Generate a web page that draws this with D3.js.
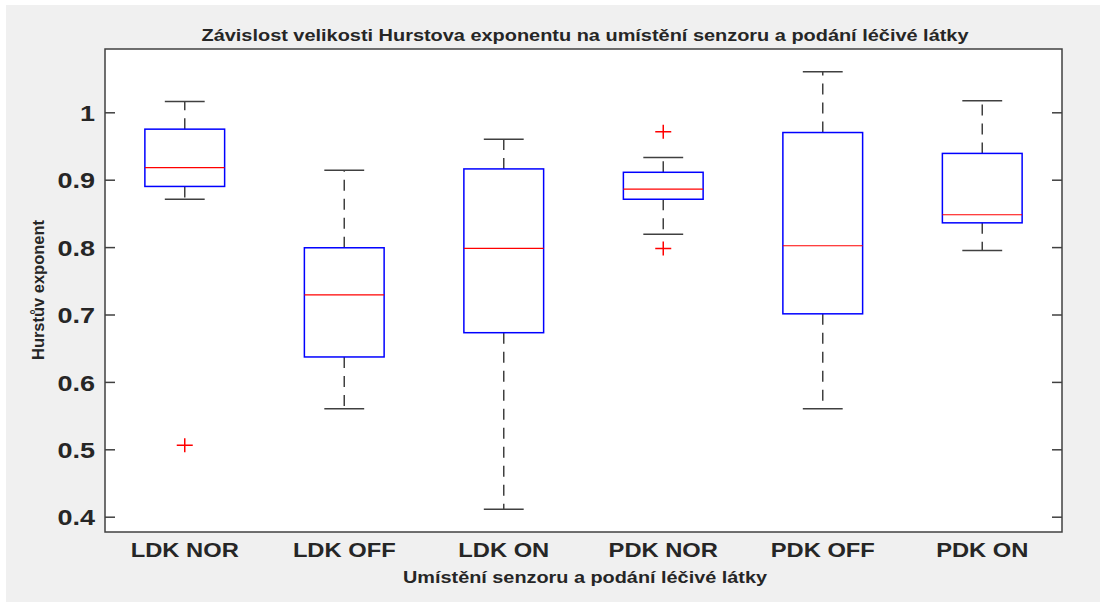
<!DOCTYPE html>
<html>
<head>
<meta charset="utf-8">
<script src="https://cdn.jsdelivr.net/npm/d3@7"></script>
<style>
  body { margin: 0; background: #fff; }
  text { font-family: "Liberation Sans", Arial, sans-serif; font-weight: bold; fill: #262626; }
</style>
</head>
<body>
<script>
// box plot data
const categories = ["LDK NOR", "LDK OFF", "LDK ON", "PDK NOR", "PDK OFF", "PDK ON"];
const whiskerLow = [0.871, 0.560, 0.411, 0.819, 0.560, 0.795];
const q1 = [0.890, 0.637, 0.673, 0.871, 0.701, 0.836];
const medians = [0.918, 0.729, 0.798, 0.886, 0.802, 0.848];
const q3 = [0.975, 0.799, 0.916, 0.911, 0.970, 0.939];
const whiskerHigh = [1.016, 0.914, 0.960, 0.933, 1.060, 1.017];
const outliers = [[0.506], [], [], [0.971, 0.798], [], []];
const yTicks = [0.4, 0.5, 0.6, 0.7, 0.8, 0.9, 1.0];
const yTickLabels = ["0.4", "0.5", "0.6", "0.7", "0.8", "0.9", "1"];

const W = 1108, H = 602;
const plot = {left: 105, top: 49, right: 1062, bottom: 532};

const svg = d3.select("body").append("svg")
    .attr("width", W)
    .attr("height", H);

// grey figure background
svg.append("rect")
    .attr("x", 6).attr("y", 5)
    .attr("width", 1094).attr("height", 597)
    .attr("fill", "#f0f0f0");

svg.append("rect")
    .attr("x", plot.left).attr("y", plot.top)
    .attr("width", plot.right - plot.left)
    .attr("height", plot.bottom - plot.top)
    .attr("fill", "#fff");

const x = d3.scaleBand()
    .domain(categories)
    .range([plot.left, plot.right])
    .padding(0);
const bw = x.bandwidth();
const cx = c => x(c) + bw / 2;

const y = d3.scaleLinear()
    .domain([0.4, 1.0])
    .range([516.7, 112.3]);

// axes, ticks pointing inward
const left = svg.append("g")
    .attr("transform", `translate(${plot.left},0)`)
    .call(d3.axisLeft(y).tickValues(yTicks).tickSize(-10).tickSizeOuter(0)
      .tickFormat((d, i) => yTickLabels[i]));
left.select(".domain").remove();
left.selectAll("line").attr("stroke", "#404040").attr("stroke-width", 1.5);
left.selectAll("text")
    .attr("x", 0)
    .attr("transform", "translate(-10,1) scale(1.2,1)")
    .style("font-size", "22.5px")
    .attr("fill", "#262626");

const right = svg.append("g")
    .attr("transform", `translate(${plot.right},0)`)
    .call(d3.axisRight(y).tickValues(yTicks).tickSize(-10).tickSizeOuter(0).tickFormat(""));
right.select(".domain").remove();
right.selectAll("line").attr("stroke", "#404040").attr("stroke-width", 1.5);

// x category labels
svg.append("g").selectAll("text")
  .data(categories)
  .join("text")
    .attr("transform", d => `translate(${cx(d)},557) scale(1.13,1)`)
    .attr("text-anchor", "middle")
    .style("font-size", "21px")
    .text(d => d);

// boxes
const boxes = svg.append("g").selectAll("g")
  .data(categories)
  .join("g");

// whiskers
boxes.append("line")
    .attr("x1", d => cx(d)).attr("x2", d => cx(d))
    .attr("y1", (d, i) => y(q3[i])).attr("y2", (d, i) => y(whiskerHigh[i]))
    .attr("stroke", "#404040").attr("stroke-width", 1.5)
    .attr("stroke-dasharray", "11,8");
boxes.append("line")
    .attr("x1", d => cx(d)).attr("x2", d => cx(d))
    .attr("y1", (d, i) => y(q1[i])).attr("y2", (d, i) => y(whiskerLow[i]))
    .attr("stroke", "#404040").attr("stroke-width", 1.5)
    .attr("stroke-dasharray", "11,8");
boxes.append("line")
    .attr("x1", d => cx(d) - bw / 8).attr("x2", d => cx(d) + bw / 8)
    .attr("y1", (d, i) => y(whiskerHigh[i])).attr("y2", (d, i) => y(whiskerHigh[i]))
    .attr("stroke", "#404040").attr("stroke-width", 1.5);
boxes.append("line")
    .attr("x1", d => cx(d) - bw / 8).attr("x2", d => cx(d) + bw / 8)
    .attr("y1", (d, i) => y(whiskerLow[i])).attr("y2", (d, i) => y(whiskerLow[i]))
    .attr("stroke", "#404040").attr("stroke-width", 1.5);

boxes.append("rect")
    .attr("x", d => cx(d) - bw / 4)
    .attr("width", bw / 2)
    .attr("y", (d, i) => y(q3[i]))
    .attr("height", (d, i) => y(q1[i]) - y(q3[i]))
    .attr("fill", "none")
    .attr("stroke", "#0000ff").attr("stroke-width", 1.5);

boxes.append("line")
    .attr("x1", d => cx(d) - bw / 4).attr("x2", d => cx(d) + bw / 4)
    .attr("y1", (d, i) => y(medians[i])).attr("y2", (d, i) => y(medians[i]))
    .attr("stroke", "#ff0000").attr("stroke-width", 1.2);

// outliers as red plus signs
const outPts = categories.flatMap((c, i) => outliers[i].map(v => ({c, v})));
svg.append("g").selectAll("path")
  .data(outPts)
  .join("path")
    .attr("d", d => `M${cx(d.c) - 8},${y(d.v)}h16M${cx(d.c)},${y(d.v) - 7}v14`)
    .attr("stroke", "#ff0000").attr("stroke-width", 1.5);

// frame
svg.append("rect")
    .attr("x", plot.left).attr("y", plot.top)
    .attr("width", plot.right - plot.left)
    .attr("height", plot.bottom - plot.top)
    .attr("fill", "none")
    .attr("stroke", "#404040").attr("stroke-width", 1.5);

// title and axis labels
svg.append("text")
    .attr("x", 585).attr("y", 41)
    .attr("text-anchor", "middle")
    .attr("textLength", 767).attr("lengthAdjust", "spacingAndGlyphs")
    .style("font-size", "16px")
    .attr("fill", "#000")
    .text("Závislost velikosti Hurstova exponentu na umístění senzoru a podání léčivé látky");

svg.append("text")
    .attr("x", 585).attr("y", 583)
    .attr("text-anchor", "middle")
    .attr("textLength", 364).attr("lengthAdjust", "spacingAndGlyphs")
    .style("font-size", "16px")
    .text("Umístění senzoru a podání léčivé látky");

svg.append("text")
    .attr("transform", "translate(44,290) rotate(-90)")
    .attr("text-anchor", "middle")
    .attr("textLength", 140).attr("lengthAdjust", "spacingAndGlyphs")
    .style("font-size", "16.5px")
    .text("Hurstův exponent");
</script>
</body>
</html>
